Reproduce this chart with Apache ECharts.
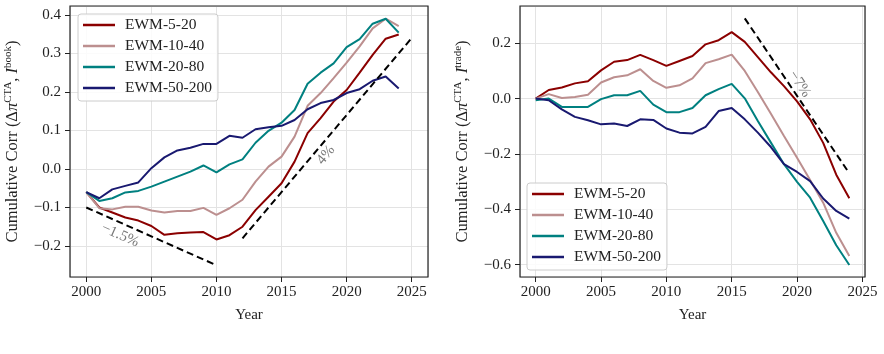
<!DOCTYPE html>
<html>
<head>
<meta charset="utf-8">
<script src="https://cdn.jsdelivr.net/npm/echarts@6/dist/echarts.min.js"></script>
<style>html,body{margin:0;padding:0;background:#fff}#c{width:884px;height:354px}</style>
</head>
<body>
<div id="c"></div>
<script>
const years = [2000,2001,2002,2003,2004,2005,2006,2007,2008,2009,2010,2011,2012,2013,2014,2015,2016,2017,2018,2019,2020,2021,2022,2023,2024];
const seriesNames = ['EWM-5-20','EWM-10-40','EWM-20-80','EWM-50-200'];

const book_5_20   = [-0.06,-0.100,-0.113,-0.126,-0.134,-0.148,-0.171,-0.167,-0.165,-0.164,-0.183,-0.172,-0.150,-0.107,-0.072,-0.037,0.019,0.093,0.132,0.175,0.205,0.250,0.296,0.338,0.349];
const book_10_40  = [-0.06,-0.102,-0.105,-0.098,-0.098,-0.108,-0.113,-0.109,-0.109,-0.101,-0.119,-0.102,-0.080,-0.033,0.006,0.032,0.084,0.164,0.197,0.236,0.276,0.318,0.365,0.390,0.371];
const book_20_80  = [-0.06,-0.083,-0.076,-0.061,-0.057,-0.046,-0.033,-0.020,-0.007,0.009,-0.009,0.012,0.025,0.068,0.099,0.120,0.153,0.221,0.250,0.274,0.316,0.337,0.377,0.390,0.354];
const book_50_200 = [-0.06,-0.076,-0.053,-0.044,-0.035,0.002,0.030,0.048,0.055,0.065,0.065,0.086,0.081,0.103,0.108,0.112,0.127,0.155,0.171,0.179,0.197,0.207,0.229,0.240,0.209];

const trade_5_20   = [0,0.031,0.040,0.055,0.063,0.102,0.133,0.139,0.158,0.139,0.118,0.136,0.154,0.196,0.211,0.240,0.205,0.150,0.095,0.045,-0.010,-0.075,-0.160,-0.275,-0.360];
const trade_10_40  = [0,0.016,0.002,0.006,0.014,0.058,0.077,0.084,0.106,0.064,0.039,0.048,0.073,0.128,0.142,0.159,0.100,0.024,-0.055,-0.135,-0.214,-0.294,-0.376,-0.485,-0.569];
const trade_20_80  = [-0.006,0.000,-0.030,-0.030,-0.030,-0.002,0.012,0.012,0.028,-0.022,-0.049,-0.049,-0.034,0.012,0.034,0.053,0.001,-0.081,-0.159,-0.237,-0.301,-0.358,-0.442,-0.530,-0.601];
const trade_50_200 = [0,-0.006,-0.039,-0.066,-0.078,-0.093,-0.090,-0.099,-0.075,-0.077,-0.108,-0.123,-0.126,-0.102,-0.045,-0.034,-0.075,-0.123,-0.175,-0.237,-0.265,-0.298,-0.361,-0.406,-0.434];

// trend guide lines: [startYear, endYear], [startValue, endValue]
const bookTrendDownX = [2000, 2010], bookTrendDownY = [-0.10, -0.25];
const bookTrendUpX   = [2012, 2025], bookTrendUpY   = [-0.18, 0.34];
const tradeTrendX    = [2016, 2024], tradeTrendY    = [0.29, -0.27];
// trend labels: text, year, value
const trendLabels = [
  {text:'−1.5%', x:2002.6, y:-0.172, panel:0, rot:-24},
  {text:'4%',    x:2018.4, y:0.036,  panel:0, rot:50},
  {text:'−7%',   x:2020.2, y:0.052,  panel:1, rot:-56}
];

const colors = ['#8b0000','#bc8f8f','#008080','#191970'];
const FONT = 'Liberation Serif';

const bookSets = [book_5_20, book_10_40, book_20_80, book_50_200];
const tradeSets = [trade_5_20, trade_10_40, trade_20_80, trade_50_200];

function pairs(xs, ys){ return xs.map((x,i)=>[x, ys[i]]); }
function yfmt(v){ return (v < 0 ? '−' : '') + Math.abs(v).toFixed(1); }

const series = [];
bookSets.forEach((d,i)=>series.push({
  type:'line', name:seriesNames[i], xAxisIndex:0, yAxisIndex:0, data:pairs(years,d),
  symbol:'none', lineStyle:{width:2, color:colors[i]}, itemStyle:{color:colors[i]}, z:3
}));
tradeSets.forEach((d,i)=>series.push({
  type:'line', name:seriesNames[i], xAxisIndex:1, yAxisIndex:1, data:pairs(years,d),
  symbol:'none', lineStyle:{width:2, color:colors[i]}, itemStyle:{color:colors[i]}, z:3
}));
[[bookTrendDownX,bookTrendDownY,0],[bookTrendUpX,bookTrendUpY,0],[tradeTrendX,tradeTrendY,1]].forEach(t=>series.push({
  type:'line', name:'trend', xAxisIndex:t[2], yAxisIndex:t[2], data:pairs(t[0],t[1]),
  symbol:'none', lineStyle:{width:2, color:'#000', type:[7,4]}, z:4, silent:true
}));
trendLabels.forEach(l=>series.push({
  type:'scatter', name:'lbl', xAxisIndex:l.panel, yAxisIndex:l.panel, data:[[l.x,l.y]],
  symbolSize:0, silent:true, z:5,
  label:{show:true, position:'inside', formatter:l.text, rotate:l.rot, color:'#555', fontFamily:FONT, fontSize:15}
}));

function xAxisCfg(idx, min, max){
  return {
    type:'value', gridIndex:idx, min:min, max:max, splitNumber:5,
    name:'Year', nameLocation:'middle', nameGap:31,
    nameTextStyle:{fontFamily:FONT, fontSize:15, color:'#222'},
    axisLine:{show:false, onZero:false}, axisTick:{show:true, length:5, lineStyle:{color:'#222'}},
    axisLabel:{fontFamily:FONT, fontSize:15, color:'#222', margin:8, showMinLabel:false, showMaxLabel:false,
      formatter:v=>String(Math.round(v))},
    splitLine:{show:true, lineStyle:{color:'#e3e3e3', width:1}}
  };
}
function yAxisCfg(idx, min, max, supText, gap){
  return {
    type:'value', gridIndex:idx, min:min, max:max, splitNumber:6,
    name:'{t|Cumulative Corr (Δ}{it|π}{sup|CTA}{t|, }{it|I}{sup|'+supText+'}{t|)}',
    nameLocation:'middle', nameGap:gap, nameRotate:90,
    nameTextStyle:{color:'#222', rich:{
      t:{fontFamily:FONT, fontSize:16.5, color:'#222', lineHeight:20},
      it:{fontFamily:FONT, fontSize:16.5, fontStyle:'italic', color:'#222', lineHeight:20},
      sup:{fontFamily:FONT, fontSize:11, color:'#222', verticalAlign:'top', lineHeight:12}
    }},
    axisLine:{show:false, onZero:false}, axisTick:{show:true, length:5, lineStyle:{color:'#222'}},
    axisLabel:{fontFamily:FONT, fontSize:15, color:'#222', margin:9, showMinLabel:false, showMaxLabel:false, formatter:yfmt},
    splitLine:{show:true, lineStyle:{color:'#e3e3e3', width:1}}
  };
}

function legendCfg(left, top){
  return {
    data:seriesNames, orient:'vertical', left:left, top:top,
    itemWidth:32, itemHeight:2.5, itemGap:5, icon:'rect',
    padding:[3,6,5,5], borderColor:'#cccccc', borderWidth:1, borderRadius:3,
    backgroundColor:'rgba(255,255,255,0.85)',
    textStyle:{fontFamily:FONT, fontSize:15.5, color:'#222', lineHeight:16, padding:[0,0,0,5]},
    selectedMode:false
  };
}

const chart = echarts.init(document.getElementById('c'), null, {renderer:'canvas'});
chart.setOption({
  animation:false,
  backgroundColor:'#fff',
  grid:[
    {left:70, top:6, width:358, height:271, show:true, borderColor:'#222', borderWidth:1.2, backgroundColor:'transparent', z:6},
    {left:520, top:6, width:345, height:271, show:true, borderColor:'#222', borderWidth:1.2, backgroundColor:'transparent', z:6}
  ],
  xAxis:[xAxisCfg(0,1998.75,2026.25), xAxisCfg(1,1998.8,2025.2)],
  yAxis:[yAxisCfg(0,-0.2805,0.423,'book',47), yAxisCfg(1,-0.6445,0.3345,'trade',47)],
  legend:[legendCfg(78,14), legendCfg(527,183)],
  series:series
});
</script>
</body>
</html>
